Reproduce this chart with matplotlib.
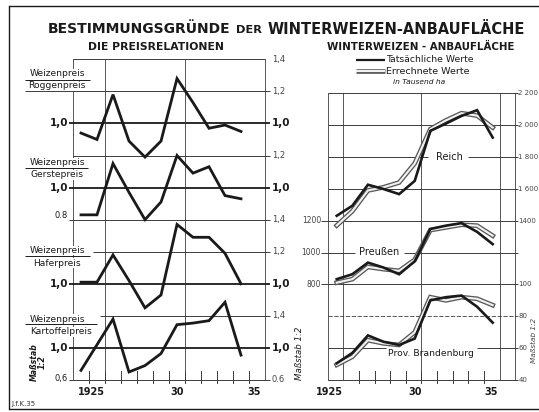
import matplotlib
matplotlib.use("Agg")
import numpy as np
import matplotlib.pyplot as plt
from matplotlib.lines import Line2D

W, H = 539, 412

# ---------------- data ----------------
price_years = [1924, 1925, 1926, 1927, 1928, 1929, 1930, 1931, 1932, 1933, 1934]
roggen = [0.94, 0.90, 1.18, 0.89, 0.79, 0.89, 1.28, 1.13, 0.97, 0.99, 0.95]
gerste = [0.83, 0.83, 1.15, 0.97, 0.80, 0.91, 1.20, 1.09, 1.13, 0.95, 0.93]
hafer = [1.01, 1.01, 1.18, 1.02, 0.85, 0.93, 1.37, 1.29, 1.29, 1.19, 1.00]
kartoffel = [0.72, 1.04, 1.36, 0.70, 0.78, 0.93, 1.29, 1.31, 1.34, 1.57, 0.91]

area_years = [1925, 1926, 1927, 1928, 1929, 1930, 1931, 1932, 1933, 1934, 1935]
reich_ist = [1431, 1494, 1626, 1599, 1567, 1650, 1964, 2010, 2058, 2094, 1922]
reich_calc = [1370, 1460, 1590, 1610, 1640, 1760, 1975, 2030, 2075, 2060, 1985]
preussen_ist = [833, 864, 937, 906, 864, 945, 1148, 1169, 1185, 1130, 1053]
preussen_calc = [811, 833, 910, 896, 885, 955, 1141, 1158, 1175, 1169, 1106]
brand_ist = [50.5, 57.0, 68.0, 64.0, 62.0, 66.0, 90.0, 92.0, 93.0, 86.0, 76.0]
brand_calc = [49.5, 54.6, 65.0, 63.0, 62.0, 70.0, 92.0, 90.0, 92.0, 91.0, 87.0]

price_labels = ["Roggenpreis", "Gerstepreis", "Haferpreis", "Kartoffelpreis"]
year_ticks = ["1925", "30", "35"]

INK = "#1a1a1a"
GRID = "#3c3c3c"

fig = plt.figure(figsize=(W / 100, H / 100), dpi=100)
fig.patch.set_facecolor("white")


def rect(x0, y0, x1, y1):
    return [x0 / W, 1 - y1 / H, (x1 - x0) / W, (y1 - y0) / H]


def hline(x0, x1, y, lw=0.6, color=GRID, ls="-"):
    fig.add_artist(Line2D([x0 / W, x1 / W], [1 - y / H, 1 - y / H], lw=lw,
                          color=color, ls=ls, zorder=-1, solid_capstyle="butt"))


def vline(x, y0, y1, lw=0.6, color=GRID):
    fig.add_artist(Line2D([x / W, x / W], [1 - y0 / H, 1 - y1 / H], lw=lw,
                          color=color, zorder=-1))


fits = []


def T(x, y, s, width=None, **kw):
    kw.setdefault("ha", "left")
    kw.setdefault("va", "center")
    kw.setdefault("color", INK)
    t = fig.text(x / W, 1 - y / H, s, **kw)
    if width:
        fits.append((t, width))
    return t


# ---------------- left panel geometry ----------------
LX0, LX1, LT, LB = 73, 265, 59.3, 380.0
def gyL(g):
    return LB - g * (LB - LT) / 10.0

RX0, RX1, RT, RB = 328, 515, 93.3, 380.0
def gyR(g):
    return RB - g * (RB - RT) / 9.0

# outer border
hline(9, 539, 6, lw=1.0, color=INK)
hline(9, 539, 409, lw=1.0, color=INK)
vline(9, 6, 409, lw=1.0, color=INK)

# left frame
vline(LX0, LT, LB)
vline(LX1, LT, LB)
thin = {10: (LX0, LX1), 9: (25, 270), 7: (LX0, 270), 5: (69, 270), 4: (93, 270),
        2: (100, 270), 0: (69, 270)}
for g, (a, b) in thin.items():
    hline(a, b, gyL(g), lw=0.7)
for g in (8, 6, 3, 1):
    hline(69, 270, gyL(g), lw=1.3, color=INK)

# fraction bars
for (yb, x1) in [(80, 90), (168, 88), (256, 90), (324, 97)]:
    hline(25, x1, yb, lw=0.7, color=INK)

baseL = fig.add_axes(rect(LX0, LT, LX1, LB), zorder=0)
baseL.set_xlim(1923.5, 1935.5)
baseL.set_ylim(0, 10)
baseL.axis("off")
for xv in (1925.5, 1930.5):
    baseL.axvline(xv, color=GRID, lw=0.6)
for xv in np.arange(1924.5, 1935.0, 1.0):
    baseL.plot([xv, xv], [-0.08, 0.28], color=GRID, lw=0.7, clip_on=False)

ylimsL = [(-0.6, 1.4), (-0.2, 1.8), (0.4, 2.4), (0.6, 4.6)]
for vals, yl in zip([roggen, gerste, hafer, kartoffel], ylimsL):
    ax = fig.add_axes(rect(LX0, LT, LX1, LB), zorder=2)
    ax.set_xlim(1923.5, 1935.5)
    ax.set_ylim(*yl)
    ax.axis("off")
    ax.patch.set_alpha(0)
    ax.plot(price_years, vals, color=INK, lw=2.0, solid_joinstyle="miter",
            clip_on=False)

# ---------------- right panel ----------------
vline(RX0, RT, RB)
vline(RX1, RT, RB)
hr = {9: [(RX0, 518)], 8: [(RX0, 518)], 7: [(RX0, 428), (468, 518)],
      6: [(RX0, 518)], 5: [(321, 518)], 4: [(321, 355), (404, 518)],
      3: [(321, 518)], 1: [(RX0, 386), (477, 518)], 0: [(RX0, 518)]}
for g, segs in hr.items():
    for a, b in segs:
        hline(a, b, gyR(g), lw=0.7)
hline(RX0, 518, gyR(2), lw=0.6, ls=(0, (5, 2)))

baseR = fig.add_axes(rect(RX0, RT, RX1, RB), zorder=0)
baseR.set_xlim(1924.44, 1936.43)
baseR.set_ylim(0, 9)
baseR.axis("off")
for xv in (1925.43, 1930.4, 1935.46):
    baseR.axvline(xv, color=GRID, lw=0.6)
for xv in np.arange(1926.43, 1935.0, 1.0):
    baseR.plot([xv, xv], [-0.08, 0.28], color=GRID, lw=0.7, clip_on=False)

ylimsR = [(400, 2200), (200, 2000), (40, 220)]
series = [(reich_ist, reich_calc), (preussen_ist, preussen_calc), (brand_ist, brand_calc)]
for (ist, calc), yl in zip(series, ylimsR):
    ax = fig.add_axes(rect(RX0, RT, RX1, RB), zorder=2)
    ax.set_xlim(1924.44, 1936.43)
    ax.set_ylim(*yl)
    ax.axis("off")
    ax.patch.set_alpha(0)
    ax.plot(area_years, calc, color="#5a5a5a", lw=3.4, solid_joinstyle="miter")
    ax.plot(area_years, calc, color="#f2f2f2", lw=1.5, solid_joinstyle="miter")
    ax.plot(area_years, ist, color=INK, lw=1.9, solid_joinstyle="miter")

# ---------------- texts ----------------
T(48, 29, "BESTIMMUNGSGRÜNDE", width=182, fontweight="bold", fontsize=11)
T(236, 30, "DER", width=26, fontweight="bold", fontsize=8)
T(268, 29, "WINTERWEIZEN-ANBAUFLÄCHE", width=255, fontweight="bold", fontsize=11)
T(88, 47, "DIE PREISRELATIONEN", width=135, fontweight="bold", fontsize=7)
T(327, 47, "WINTERWEIZEN - ANBAUFLÄCHE", width=188, fontweight="bold", fontsize=7)

# legend
hline(356, 385, 60, lw=1.6, color=INK)
hline(356, 385, 71, lw=3.4, color="#5a5a5a")
hline(356, 385, 71, lw=1.5, color="#f2f2f2")
T(386, 60, "Tatsächliche Werte", width=88, fontsize=6)
T(386, 71, "Errechnete Werte", width=84, fontsize=6)
T(393, 82, "in Tausend ha", width=52, fontsize=5.5, style="italic")

# fractions
white = dict(facecolor="white", edgecolor="none", pad=0.3)
frac_y = [(74, 86), (163, 175), (250.5, 263), (319, 332)]
for (yw, yd), lab in zip(frac_y, price_labels):
    T(57, yw, "Weizenpreis", ha="center", fontsize=6.6, bbox=white)
    T(57 if lab != "Kartoffelpreis" else 61, yd, lab, ha="center",
      fontsize=6.6, bbox=white)

# left side values
for y, s, b in [(gyL(8), "1,0", True), (gyL(6), "1,0", True), (215, "0.8", False),
                (gyL(3), "1,0", True), (gyL(1), "1,0", True), (378, "0,6", False)]:
    T(68, y, s, ha="right", fontsize=7.5 if b else 6,
      fontweight="bold" if b else "normal")

# right side values of left panel
right_vals = [(10, "1,4"), (9, "1,2"), (8, "1,0"), (7, "1,2"), (6, "1,0"), (5, "1,4"),
              (4, "1,2"), (3, "1,0"), (2, "1,4"), (1, "1,0"), (0, "0.6")]
for g, s in right_vals:
    b = s == "1,0"
    T(272, gyL(g), s, fontsize=7.5 if b else 6, fontweight="bold" if b else "normal",
      color=INK if b else "#444444")

# inner labels of right panel
for g, s in [(5, "1200"), (4, "1000"), (3, "800")]:
    T(321, gyR(g), s, ha="right", fontsize=5.5, color="#444444")
for g, s in [(9, "2 200"), (8, "2 000"), (7, "1 800"), (6, "1 600"), (5, "1400"),
             (3, "100"), (2, "80"), (1, "60"), (0, "40")]:
    T(518.5, gyR(g), s, fontsize=5.0, color="#444444")

# series names
T(449, gyR(7), "Reich", ha="center", fontsize=7)
T(379, gyR(4) - 1, "Preußen", ha="center", fontsize=7)
T(431, 353, "Prov. Brandenburg", ha="center", width=86, fontsize=6.5)

# scale notes
T(38, 362, "Maßstab\n1:2", ha="center", rotation=90, fontsize=5.6, fontweight="bold",
  style="italic", multialignment="center", linespacing=0.9)
T(299, 353, "Maßstab 1:2", ha="center", rotation=90, fontsize=6.2, style="italic")
T(531, 340, "Maßstab 1:2", ha="left", rotation=90, fontsize=5.2, style="italic",
  color="#444444")

# year labels
for x, s in zip([91, 177.5, 254], year_ticks):
    T(x, 392, s, ha="center", fontsize=7, fontweight="bold")
for x, s in zip([329, 415.5, 491.5], year_ticks):
    T(x, 392, s, ha="center", fontsize=7, fontweight="bold")

T(11, 404, "J.f.K.35", fontsize=5, color="#333333")

# fit selected texts to their widths
fig.canvas.draw()
r = fig.canvas.get_renderer()
for t, w in fits:
    bb = t.get_window_extent(renderer=r)
    if bb.width > 0:
        t.set_fontsize(t.get_fontsize() * w / bb.width)

fig.savefig("out.png", dpi=100, facecolor="white")
